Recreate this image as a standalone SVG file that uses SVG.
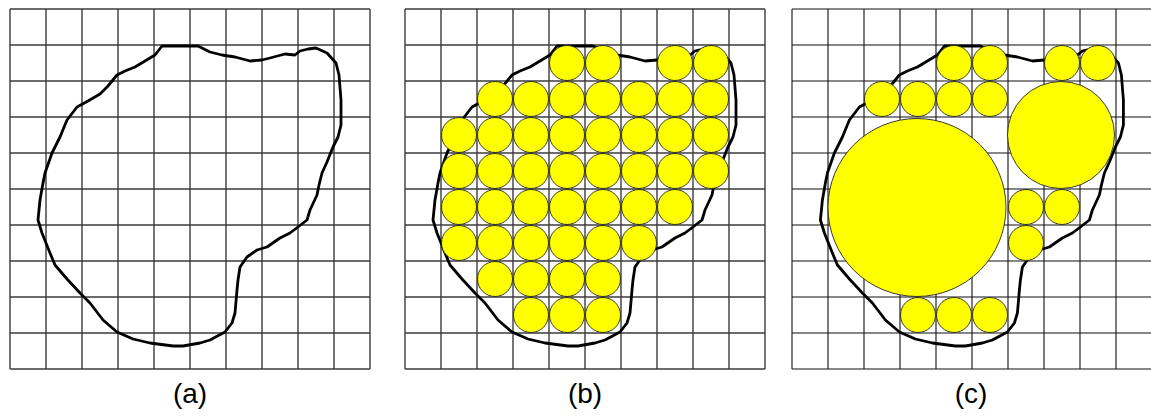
<svg xmlns="http://www.w3.org/2000/svg" xmlns:xlink="http://www.w3.org/1999/xlink" width="1151" height="417" viewBox="0 0 1151 417">
<style>
.bg{fill:#ffffff}
.grid{fill:none;stroke:#3c3c3c;stroke-width:1.4}
.gridc{fill:none;stroke:#111111;stroke-width:1.1}
.blob{fill:none;stroke:#000000;stroke-width:2.8;stroke-linejoin:round;stroke-linecap:round}
.c{fill:#ffff00;stroke:#222222;stroke-width:0.9}
.lbl{font-family:"Liberation Sans",Arial,sans-serif;font-size:28px;fill:#000000;text-anchor:middle}
</style>
<defs>
<path id="gridpath" d="M0,0V360M36,0V360M72,0V360M108,0V360M144,0V360M180,0V360M216,0V360M252,0V360M288,0V360M324,0V360M360,0V360M0,0H360M0,36H360M0,72H360M0,108H360M0,144H360M0,180H360M0,216H360M0,252H360M0,288H360M0,324H360M0,360H360"/>
<path id="blobpath" d="M162,46 L198,46 L210,52 L222,55 L235,57 L250,61 L262,60 L270,58 L285,54 L295,55 L300,51 L308,49 L316,48 L327,53 L336,63 L339,75 L341,100 L341,125 L338,137 L333,147 L327,162 L322,173 L319,185 L317,195 L310,210 L307,220 L298,227 L290,233 L280,238 L267,247 L257,250 L247,257 L240,267 L238,280 L237,290 L235,313 L232,323 L225,332 L210,340 L200,343 L183,346 L173,346 L150,343 L133,339 L117,332 L103,320 L90,303 L80,293 L67,279 L55,265 L50,253 L42,233 L38,220 L39,210 L40,200 L43,183 L45,173 L52,153 L60,137 L67,120 L77,107 L88,101 L100,94 L108,86 L117,75 L125,71 L135,67 L145,61 L155,55 Z"/>
</defs>
<rect class="bg" x="0" y="0" width="1151" height="417"/>

<g id="panel-a">
<use xlink:href="#gridpath" href="#gridpath" class="grid" transform="translate(10,9)"/>
<use xlink:href="#blobpath" href="#blobpath" class="blob"/>
<text class="lbl" x="190" y="403">(a)</text>
</g>

<g id="panel-b">
<use xlink:href="#gridpath" href="#gridpath" class="grid" transform="translate(405,9)"/>
<use xlink:href="#blobpath" href="#blobpath" class="blob" transform="translate(395,0)"/>
<g id="circles-b">
<circle class="c" cx="567" cy="63" r="17.5"/><circle class="c" cx="603" cy="63" r="17.5"/><circle class="c" cx="675" cy="63" r="17.5"/><circle class="c" cx="711" cy="63" r="17.5"/>
<circle class="c" cx="495" cy="99" r="17.5"/><circle class="c" cx="531" cy="99" r="17.5"/><circle class="c" cx="567" cy="99" r="17.5"/><circle class="c" cx="603" cy="99" r="17.5"/><circle class="c" cx="639" cy="99" r="17.5"/><circle class="c" cx="675" cy="99" r="17.5"/><circle class="c" cx="711" cy="99" r="17.5"/>
<circle class="c" cx="459" cy="135" r="17.5"/><circle class="c" cx="495" cy="135" r="17.5"/><circle class="c" cx="531" cy="135" r="17.5"/><circle class="c" cx="567" cy="135" r="17.5"/><circle class="c" cx="603" cy="135" r="17.5"/><circle class="c" cx="639" cy="135" r="17.5"/><circle class="c" cx="675" cy="135" r="17.5"/><circle class="c" cx="711" cy="135" r="17.5"/>
<circle class="c" cx="459" cy="171" r="17.5"/><circle class="c" cx="495" cy="171" r="17.5"/><circle class="c" cx="531" cy="171" r="17.5"/><circle class="c" cx="567" cy="171" r="17.5"/><circle class="c" cx="603" cy="171" r="17.5"/><circle class="c" cx="639" cy="171" r="17.5"/><circle class="c" cx="675" cy="171" r="17.5"/><circle class="c" cx="711" cy="171" r="17.5"/>
<circle class="c" cx="459" cy="207" r="17.5"/><circle class="c" cx="495" cy="207" r="17.5"/><circle class="c" cx="531" cy="207" r="17.5"/><circle class="c" cx="567" cy="207" r="17.5"/><circle class="c" cx="603" cy="207" r="17.5"/><circle class="c" cx="639" cy="207" r="17.5"/><circle class="c" cx="675" cy="207" r="17.5"/>
<circle class="c" cx="459" cy="243" r="17.5"/><circle class="c" cx="495" cy="243" r="17.5"/><circle class="c" cx="531" cy="243" r="17.5"/><circle class="c" cx="567" cy="243" r="17.5"/><circle class="c" cx="603" cy="243" r="17.5"/><circle class="c" cx="639" cy="243" r="17.5"/>
<circle class="c" cx="495" cy="279" r="17.5"/><circle class="c" cx="531" cy="279" r="17.5"/><circle class="c" cx="567" cy="279" r="17.5"/><circle class="c" cx="603" cy="279" r="17.5"/>
<circle class="c" cx="531" cy="315" r="17.5"/><circle class="c" cx="567" cy="315" r="17.5"/><circle class="c" cx="603" cy="315" r="17.5"/>
</g>
<text class="lbl" x="585" y="403">(b)</text>
</g>

<g id="panel-c">
<use xlink:href="#gridpath" href="#gridpath" class="gridc" transform="translate(792,9)"/>
<use xlink:href="#blobpath" href="#blobpath" class="blob" transform="translate(782.4,0)"/>
<g id="circles-c">
<circle class="c" cx="954" cy="63" r="17.5"/><circle class="c" cx="990" cy="63" r="17.5"/><circle class="c" cx="1062" cy="63" r="17.5"/><circle class="c" cx="1098" cy="63" r="17.5"/>
<circle class="c" cx="882" cy="99" r="17.5"/><circle class="c" cx="918" cy="99" r="17.5"/><circle class="c" cx="954" cy="99" r="17.5"/><circle class="c" cx="990" cy="99" r="17.5"/>
<circle class="c" cx="917" cy="207.5" r="89"/>
<circle class="c" cx="1061" cy="135" r="53.5"/>
<circle class="c" cx="1026" cy="207" r="17.5"/><circle class="c" cx="1062" cy="207" r="17.5"/>
<circle class="c" cx="1026" cy="243" r="17.5"/>
<circle class="c" cx="918" cy="315" r="17.5"/><circle class="c" cx="954" cy="315" r="17.5"/><circle class="c" cx="990" cy="315" r="17.5"/>
</g>
<text class="lbl" x="971" y="403">(c)</text>
</g>
</svg>
